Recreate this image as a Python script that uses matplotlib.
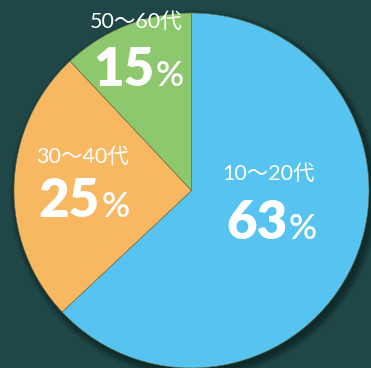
import matplotlib.pyplot as plt
from matplotlib.patches import Circle

# data
groups = ['10〜20代', '30〜40代', '50〜60代']
shares = [63, 25, 12]            # slice sizes as drawn
pct_labels = ['63', '25', '15']  # numbers printed on the chart
colors = ['#56C3F0', '#F8B862', '#8DC76E']

bg = '#1F4747'
plt.rcParams['font.family'] = ['Lato', 'Noto Sans CJK JP', 'DejaVu Sans']

fig = plt.figure(figsize=(3.71, 3.68), dpi=100, facecolor=bg)
ax = fig.add_axes([0, 0, 1, 1])
ax.set_facecolor(bg)

cx, cy, r = 191.5, 177.5, 177.5

# soft drop shadow, mostly to the lower right
for i in range(8):
    ax.add_patch(Circle((cx + 3, cy - 4), r + 7 - i, color='black', alpha=0.05, lw=0, zorder=1))

wedges, _ = ax.pie(shares, colors=colors, startangle=90, counterclock=False,
                   center=(cx, cy), radius=r, frame=True,
                   wedgeprops=dict(linewidth=0.4, edgecolor='#6b6b45'))
for w in wedges:
    w.set_zorder(2)
ax.set_xlim(0, 371)
ax.set_ylim(0, 368)
ax.set_aspect('equal')
ax.axis('off')

# label positions (x centre of text, y of small label, y baseline of big number)
spots = [(269, 368 - 174, 368 - 239),
         (82, 368 - 157, 368 - 217),
         (136, 368 - 22, 368 - 86)]

for (x, ys, yb), g, p in zip(spots, groups, pct_labels):
    ax.text(x, ys, g, color='white', fontsize=15.5, ha='center', va='center', zorder=5)
    ax.text(x + 18, yb, p, color='white', fontsize=38, fontweight='heavy',
            ha='right', va='baseline', zorder=5)
    ax.text(x + 20, yb, '%', color='white', fontsize=25, fontweight='semibold',
            ha='left', va='baseline', zorder=5)

fig.savefig('out.png', dpi=100, facecolor=bg)
